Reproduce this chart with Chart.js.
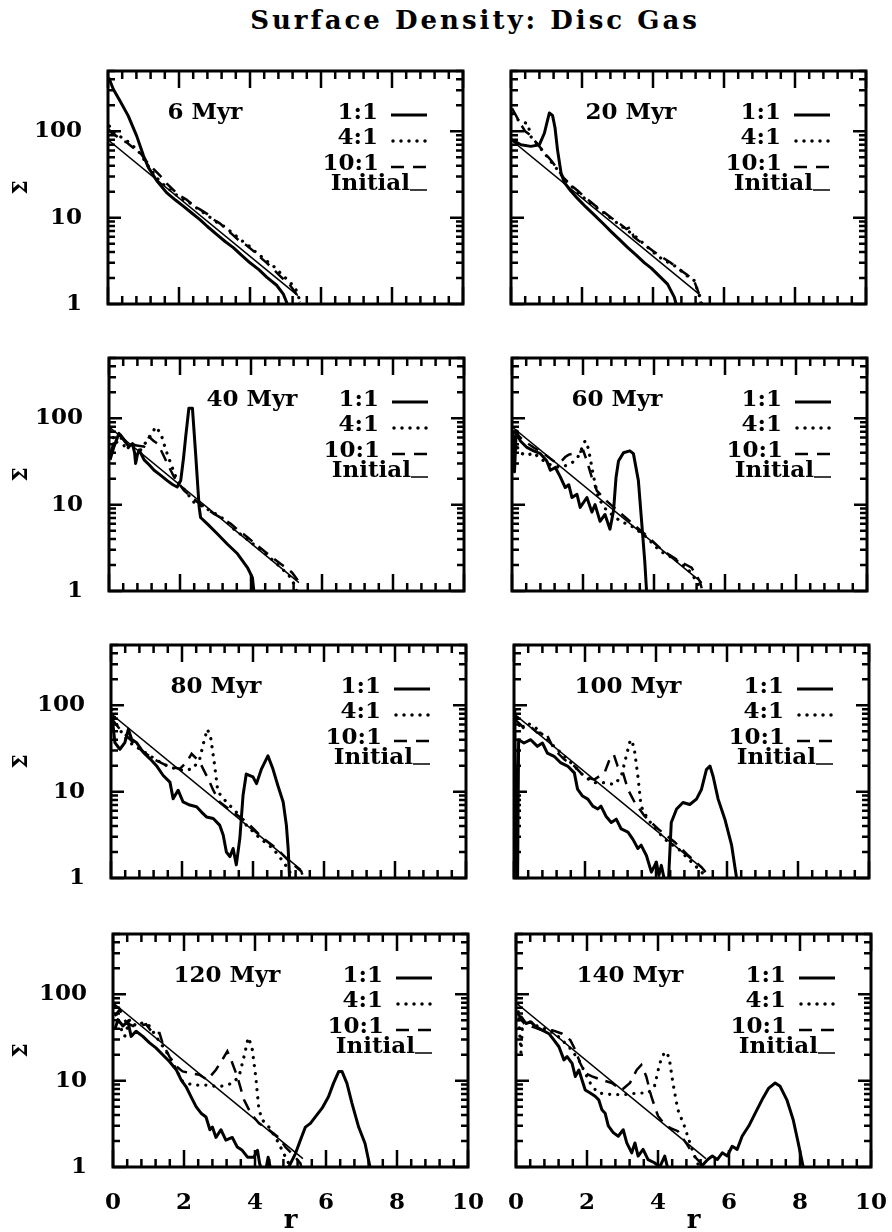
<!DOCTYPE html>
<html>
<head>
<meta charset="utf-8">
<script src="https://cdn.jsdelivr.net/npm/chart.js@4.4.1/dist/chart.umd.min.js"></script>
<style>
  html, body { margin: 0; padding: 0; background: #fff; }
  #page { position: relative; width: 892px; height: 1232px; overflow: hidden; }
  #title { position: absolute; left: 0; width: 950px; top: 5px; text-align: center;
           font: bold 26px "DejaVu Serif"; letter-spacing: 3px; color: #000; white-space: nowrap; }
  canvas { position: absolute; }
</style>
</head>
<body>
<div id="page"><div id="title">Surface Density: Disc Gas</div></div>
<script>
// ---- data: [r, Sigma] ----
const initial = [[0, 80], [5.35, 1.25]];

const s6_1to1 = [[0.02,420],[0.15,307],[0.34,224],[0.57,151],[0.81,88],[1.0,52],[1.14,38],[1.37,27],[1.65,19.5],[1.9,16],[2.12,13.6],[2.35,11.4],[2.59,9.5],[2.8,7.9],[3.06,6.4],[3.3,5.3],[3.53,4.5],[3.75,3.7],[4.0,3.0],[4.25,2.5],[4.47,2.05],[4.75,1.65],[4.94,1.3],[5.05,1.0],[5.1,0.8]];
const s6_4to1 = [[0.04,115],[0.12,100],[0.24,93],[0.4,84],[0.53,78],[0.7,68],[0.81,62],[0.95,52],[1.09,42],[1.23,35],[1.37,29],[1.6,23.5],[1.84,19.5],[2.05,16.8],[2.31,14.8],[2.55,12.5],[2.78,10.8],[3.0,9.2],[3.25,8.0],[3.5,6.7],[3.72,5.6],[3.95,4.8],[4.19,3.9],[4.45,3.2],[4.66,2.75],[4.85,2.3],[5.03,1.95],[5.27,1.55],[5.36,1.25],[5.42,1.0]];
const s6_10to1 = [[0.02,106],[0.1,96],[0.24,88],[0.38,80],[0.53,74],[0.7,65],[0.9,57],[1.05,47],[1.18,40],[1.3,36],[1.46,31],[1.65,25],[1.84,21],[2.0,18.2],[2.2,16.3],[2.4,14],[2.6,12.4],[2.8,11],[2.97,9.5],[3.15,8.6],[3.34,7.3],[3.5,6.4],[3.72,5.3],[3.9,4.8],[4.1,4.1],[4.3,3.45],[4.47,3.0],[4.65,2.55],[4.85,2.1],[5.0,1.85],[5.13,1.65],[5.31,1.3],[5.4,1.05]];

const s20_1to1 = [[0.0,80],[0.12,76],[0.28,70],[0.56,67],[0.8,70],[0.94,95],[1.02,130],[1.08,163],[1.17,153],[1.24,110],[1.31,61],[1.41,33],[1.5,25.7],[1.68,20.5],[1.88,16.6],[2.1,13.4],[2.35,10.7],[2.6,8.5],[2.82,6.9],[3.05,5.6],[3.29,4.5],[3.52,3.7],[3.76,3.0],[3.95,2.6],[4.13,2.2],[4.41,1.7],[4.6,1.2],[4.65,1.0],[4.68,0.8]];
const s20_4to1 = [[0.05,160],[0.15,140],[0.28,130],[0.47,123],[0.56,87],[0.75,70],[0.94,56],[1.08,47],[1.22,40],[1.4,32],[1.6,25.5],[1.88,19.8],[2.1,16.3],[2.35,13.6],[2.6,11.5],[2.82,9.8],[3.05,8.3],[3.3,7.0],[3.52,6.0],[3.76,4.9],[4.0,4.0],[4.22,3.4],[4.45,3.0],[4.69,2.66],[4.9,2.2],[5.16,1.87],[5.35,1.1],[5.4,0.9]];
const s20_10to1 = [[0.03,185],[0.15,150],[0.28,120],[0.4,100],[0.55,90],[0.7,75],[0.85,63],[1.0,53],[1.15,45],[1.3,37],[1.48,29],[1.7,23.5],[1.88,20.5],[2.1,17],[2.35,14],[2.6,11.8],[2.82,10.0],[3.05,8.6],[3.25,7.4],[3.38,7.8],[3.45,6.0],[3.6,5.4],[3.76,4.9],[4.0,4.1],[4.25,3.5],[4.5,3.0],[4.69,2.6],[4.95,2.2],[5.16,1.85],[5.3,1.3],[5.35,1.0]];

const s40_1to1 = [[0.03,33],[0.14,47],[0.28,67],[0.42,56],[0.56,47],[0.66,51],[0.72,40],[0.75,30],[0.8,38],[0.85,43],[0.99,33],[1.13,29],[1.27,25],[1.45,22],[1.64,19],[1.8,17],[1.92,16],[2.02,19],[2.1,35],[2.16,61],[2.25,131],[2.35,131],[2.44,39],[2.54,9.3],[2.58,7.1],[2.77,6.0],[3.05,4.6],[3.33,3.5],[3.62,2.7],[3.9,1.87],[4.04,1.43],[4.08,1.0],[4.1,0.8]];
const s40_4to1 = [[0.03,73],[0.19,51],[0.33,61],[0.47,43],[0.66,51],[0.89,43],[1.0,50],[1.08,56],[1.22,67],[1.31,80],[1.46,67],[1.6,43],[1.74,30],[1.92,19],[2.21,13.4],[2.39,10.7],[2.58,9.8],[2.77,8.9],[2.96,8.0],[3.15,7.2],[3.33,6.3],[3.52,5.2],[3.75,4.4],[3.99,3.7],[4.22,3.1],[4.46,2.6],[4.65,2.2],[4.84,1.87],[5.12,1.43],[5.26,1.1],[5.3,0.9]];
const s40_10to1 = [[0.03,39],[0.19,61],[0.33,64],[0.52,51],[0.7,49],[0.99,47],[1.13,61],[1.25,55],[1.36,51],[1.5,40],[1.64,30],[1.83,21],[1.97,17.5],[2.11,14.6],[2.3,12.5],[2.49,10.7],[2.72,9.2],[2.96,7.8],[3.2,6.9],[3.43,6.0],[3.66,5.0],[3.9,4.2],[4.13,3.5],[4.37,2.9],[4.6,2.45],[4.84,2.05],[5.0,1.85],[5.16,1.63],[5.4,1.2]];

const s60_1to1 = [[0.02,72],[0.07,24],[0.12,72],[0.23,55],[0.42,46],[0.61,42],[0.8,39],[0.98,32],[1.08,25],[1.22,27],[1.36,21],[1.5,15.8],[1.6,17],[1.69,12.1],[1.83,13.2],[1.92,9.3],[2.11,12.1],[2.25,8.2],[2.34,10],[2.48,6.4],[2.62,7.7],[2.76,5.2],[2.86,8.5],[2.93,20.6],[3.0,32],[3.14,40],[3.32,42],[3.42,39],[3.56,19],[3.65,6.5],[3.74,2.2],[3.79,1.0],[3.82,0.8]];
const s60_4to1 = [[0.03,69],[0.13,48],[0.23,40],[0.42,37],[0.61,40],[0.8,34],[1.08,29],[1.36,27],[1.64,29.5],[1.83,34],[1.97,45],[2.06,55],[2.15,45],[2.29,22],[2.43,12],[2.67,8.5],[3.04,6.5],[3.42,5.5],[3.79,4.2],[4.17,2.9],[4.54,2.4],[4.92,1.86],[5.1,1.5],[5.24,1.2],[5.3,1.0]];
const s60_10to1 = [[0.03,72],[0.33,55],[0.61,46],[0.89,39],[1.17,32],[1.36,31],[1.5,35.6],[1.6,38],[1.83,40],[2.01,42],[2.11,32],[2.25,20.6],[2.39,14.5],[2.67,11],[3.04,8.1],[3.42,5.9],[3.79,4.4],[4.26,2.9],[4.73,2.2],[5.06,1.86],[5.29,1.3],[5.35,1.05]];

const s80_1to1 = [[0.03,75],[0.11,37],[0.25,31],[0.39,37],[0.49,53],[0.58,40.5],[0.72,37],[0.91,28.5],[1.1,24],[1.28,20],[1.47,15.4],[1.66,12.9],[1.75,8.3],[1.89,10.4],[2.03,7.6],[2.22,7.0],[2.41,6.7],[2.55,5.8],[2.69,5.1],[2.88,4.9],[3.06,4.1],[3.16,3.15],[3.25,2.0],[3.35,1.77],[3.44,2.2],[3.53,1.42],[3.63,2.9],[3.72,9.1],[3.81,16],[4.0,14.8],[4.1,12.4],[4.24,18.4],[4.42,26],[4.56,18.4],[4.7,11.8],[4.85,7.6],[4.94,4.1],[4.99,2.2],[5.03,1.0],[5.05,0.8]];
const s80_4to1 = [[0.03,90],[0.16,60],[0.35,45],[0.53,37],[0.82,31],[1.1,26],[1.38,22],[1.66,19.2],[2.03,17.6],[2.31,18.4],[2.5,24],[2.61,37],[2.71,53],[2.8,44.5],[2.92,20],[3.01,10],[3.25,7.6],[3.53,5.8],[3.81,4.1],[4.19,2.9],[4.56,2.2],[4.85,1.55],[5.03,1.2],[5.1,1.0]];
const s80_10to1 = [[0.03,69],[0.25,53],[0.53,40.7],[0.82,31],[1.19,24],[1.57,20],[1.94,18.4],[2.13,22],[2.27,27.4],[2.41,24],[2.55,20],[2.74,14],[2.88,10.4],[3.06,7.6],[3.44,5.8],[3.81,4.5],[4.28,2.9],[4.66,2.2],[5.03,1.55],[5.36,1.2],[5.42,1.0]];

const s100_1to1 = [[0.02,89],[0.075,1.0],[0.1,0.8],[0.13,40],[0.28,36.6],[0.47,40],[0.66,33.5],[0.8,36.6],[0.94,28],[1.13,25.7],[1.32,21.5],[1.51,19.8],[1.7,16.5],[1.79,10.7],[1.93,8.9],[2.08,8.2],[2.22,6.8],[2.36,6.3],[2.45,6.8],[2.59,5.2],[2.74,4.4],[2.88,4.8],[3.02,3.7],[3.21,3.4],[3.35,2.8],[3.49,2.2],[3.58,2.4],[3.73,1.82],[3.87,1.17],[4.01,1.53],[4.08,1.07],[4.15,1.4],[4.25,0.9],[4.35,0.9],[4.43,4.4],[4.58,6.3],[4.76,7.5],[4.95,7.1],[5.14,8.2],[5.28,10.6],[5.42,18],[5.52,19.8],[5.61,15],[5.75,8.2],[5.94,4.8],[6.13,2.4],[6.23,1.28],[6.27,1.0],[6.3,0.8]];
const s100_4to1 = [[0.03,89],[0.19,52],[0.38,62],[0.57,57],[0.85,43.7],[1.13,33.4],[1.42,25.7],[1.7,19.8],[1.98,15],[2.26,12.7],[2.55,12.7],[2.83,12.1],[3.02,15],[3.16,25.7],[3.28,40],[3.38,33.4],[3.49,15],[3.58,6.8],[3.77,4.8],[4.06,3.4],[4.34,2.6],[4.62,2.2],[4.91,1.67],[5.19,1.28],[5.38,1.07],[5.42,0.9]];
const s100_10to1 = [[0.03,68],[0.24,57],[0.42,59],[0.66,48],[0.9,48],[1.13,30.8],[1.42,23.5],[1.7,19.8],[1.98,15],[2.26,13.8],[2.55,16.5],[2.69,23.5],[2.81,27],[2.92,19.8],[3.07,16.5],[3.21,10.6],[3.4,7.5],[3.68,5.2],[4.06,3.7],[4.53,2.6],[4.91,1.82],[5.28,1.34],[5.47,1.07],[5.5,0.9]];

const s120_1to1 = [[0.05,39],[0.14,51],[0.28,43],[0.42,49],[0.51,32.6],[0.65,37.4],[0.84,32.6],[1.03,27.4],[1.21,24],[1.4,20],[1.59,16.7],[1.78,13.4],[1.92,10.2],[2.06,8.5],[2.2,6.5],[2.34,5.0],[2.48,4.2],[2.62,3.8],[2.73,2.7],[2.8,2.9],[2.9,2.2],[3.04,2.7],[3.18,2.05],[3.36,2.2],[3.5,1.7],[3.64,1.56],[3.79,1.3],[3.97,1.3],[4.07,1.56],[4.13,1.1],[4.2,0.9],[4.3,0.9],[4.37,1.3],[4.45,0.9],[4.9,0.9],[4.95,1.0],[5.14,1.43],[5.28,2.05],[5.42,2.9],[5.56,3.2],[5.7,3.8],[5.89,4.8],[6.07,6.5],[6.21,9.3],[6.36,12.8],[6.45,12.8],[6.59,9.3],[6.73,5.5],[6.92,2.9],[7.1,1.87],[7.24,1.0],[7.27,0.8]];
const s120_4to1 = [[0.05,73],[0.19,43],[0.33,32.6],[0.47,51],[0.65,43],[0.84,47],[1.03,43],[1.21,32.6],[1.4,25],[1.59,19],[1.78,13.4],[1.96,9.8],[2.24,8.9],[2.62,8.9],[2.99,8.5],[3.36,9.3],[3.55,11.2],[3.69,19],[3.81,31.5],[3.91,25],[4.02,11.2],[4.11,4.6],[4.21,3.5],[4.39,2.9],[4.58,2.2],[4.72,1.7],[4.86,1.3],[4.95,1.1],[5.0,0.9]];
const s120_10to1 = [[0.05,56],[0.19,67],[0.37,47],[0.56,43],[0.75,43],[0.93,45],[1.12,35.6],[1.31,35.6],[1.4,27],[1.59,19],[1.78,14.7],[1.96,12.8],[2.2,12.2],[2.43,11.7],[2.66,10.2],[2.9,13.4],[3.08,17.5],[3.22,21.9],[3.36,16],[3.5,11.2],[3.69,6.0],[3.88,4.2],[4.11,3.2],[4.39,2.7],[4.67,2.2],[4.86,1.7],[5.09,1.37],[5.28,1.1],[5.33,0.9]];

const s140_1to1 = [[0.05,50],[0.14,55],[0.28,46],[0.42,48],[0.56,42],[0.74,38.5],[0.93,35],[1.07,29.5],[1.21,24.7],[1.35,17.4],[1.44,19],[1.58,15.9],[1.67,11.2],[1.77,13.3],[1.86,10.2],[1.95,7.8],[2.09,7.2],[2.23,6.6],[2.33,6.0],[2.42,4.6],[2.51,4.2],[2.6,3.0],[2.74,2.5],[2.88,2.27],[3.02,2.7],[3.12,1.9],[3.26,1.46],[3.35,1.9],[3.44,1.34],[3.58,1.6],[3.72,1.22],[3.9,1.12],[4.05,1.0],[4.19,1.34],[4.28,0.95],[4.35,0.8],[5.15,0.8],[5.21,1.0],[5.4,1.22],[5.53,1.34],[5.67,1.22],[5.81,1.46],[5.95,1.34],[6.09,1.74],[6.23,1.6],[6.37,2.27],[6.56,3.0],[6.74,4.2],[6.93,6.0],[7.12,8.2],[7.3,9.4],[7.44,8.6],[7.63,6.0],[7.81,3.5],[7.95,1.9],[8.09,1.0],[8.12,0.8]];
const s140_4to1 = [[0.05,78],[0.14,21],[0.19,50],[0.37,48],[0.65,42],[0.93,38.5],[1.21,32],[1.49,24.7],[1.77,17.4],[1.95,12.2],[2.14,8.6],[2.33,7.2],[2.7,6.9],[3.07,6.9],[3.44,7.2],[3.72,7.2],[3.9,8.6],[4.05,15.9],[4.19,21.7],[4.31,19],[4.42,9.4],[4.56,4.6],[4.74,3.0],[4.93,1.74],[5.07,1.22],[5.16,1.0],[5.2,0.9]];
const s140_10to1 = [[0.05,60],[0.23,46],[0.47,42],[0.74,38.5],[1.02,38.5],[1.3,35],[1.53,29.5],[1.67,22.7],[1.81,15.9],[1.95,12.2],[2.14,11.2],[2.42,10.2],[2.7,9.4],[2.98,7.8],[3.21,9.4],[3.4,13.3],[3.53,15.2],[3.67,11.2],[3.81,6.6],[4.0,3.9],[4.19,3.1],[4.37,2.8],[4.56,2.6],[4.79,1.9],[5.02,1.34],[5.21,1.1],[5.25,0.9]];

const ages = [6, 20, 40, 60, 80, 100, 120, 140];
const ratio1to1 = [s6_1to1, s20_1to1, s40_1to1, s60_1to1, s80_1to1, s100_1to1, s120_1to1, s140_1to1];
const ratio4to1 = [s6_4to1, s20_4to1, s40_4to1, s60_4to1, s80_4to1, s100_4to1, s120_4to1, s140_4to1];
const ratio10to1 = [s6_10to1, s20_10to1, s40_10to1, s60_10to1, s80_10to1, s100_10to1, s120_10to1, s140_10to1];
const seriesNames = ['1:1', '4:1', '10:1', 'Initial'];

const xMajorTicks = [0, 2, 4, 6, 8, 10];
const xMinorTicks = [0.4, 0.8, 1.2, 1.6, 2.4, 2.8, 3.2, 3.6, 4.4, 4.8, 5.2, 5.6, 6.4, 6.8, 7.2, 7.6, 8.4, 8.8, 9.2, 9.6];
const yLabelTicks = [1, 10, 100];
const yMinorTicks = [2, 3, 4, 5, 6, 7, 8, 9, 20, 30, 40, 50, 60, 70, 80, 90, 200, 300, 400, 500];

// ---- layout ----
const FONT = '"DejaVu Serif"';
const W = 355, H = 233;
const rowTops = [71, 358, 645, 934];
const rowShift = [0, 1, 3, 5];
const colLefts = [108, 511];
const canvasLefts = [0, 490];
const canvasWidths = [490, 402];
const labelOffsets = [97, 120, 143, 105, 105, 114, 114, 114];

const toXY = pts => pts.map(p => ({ x: p[0], y: p[1] }));

// frame, inward ticks, panel label and key, drawn the IDL way
const framePlugin = {
  id: 'frame',
  afterDraw(chart, args, o) {
    const { ctx, chartArea: a } = chart;
    const x = chart.scales.x, y = chart.scales.y;
    ctx.save();
    ctx.strokeStyle = '#000';
    ctx.lineWidth = 2.5;
    ctx.beginPath();
    const vt = (v, len) => {
      const px = x.getPixelForValue(v);
      ctx.moveTo(px, a.bottom); ctx.lineTo(px, a.bottom - len);
      ctx.moveTo(px, a.top); ctx.lineTo(px, a.top + len);
    };
    const ht = (v, len) => {
      const py = y.getPixelForValue(v);
      ctx.moveTo(a.left, py); ctx.lineTo(a.left + len, py);
      ctx.moveTo(a.right, py); ctx.lineTo(a.right - len, py);
    };
    xMajorTicks.forEach(v => vt(v, 17));
    xMinorTicks.forEach(v => vt(v, 8));
    yLabelTicks.forEach(v => ht(v, 13));
    yMinorTicks.forEach(v => ht(v, 7));
    ctx.stroke();
    ctx.lineWidth = 3;
    ctx.strokeRect(a.left, a.top, a.right - a.left, a.bottom - a.top);

    ctx.fillStyle = '#000';
    ctx.font = 'bold 23px ' + FONT;
    ctx.textBaseline = 'alphabetic';
    ctx.textAlign = 'center';
    ctx.fillText(o.label, a.left + o.labelX, a.top + 48);
    ctx.textAlign = 'right';
    ctx.fillText(seriesNames[0], a.left + 270, a.top + 48);
    ctx.fillText(seriesNames[1], a.left + 270, a.top + 73);
    ctx.fillText(seriesNames[2], a.left + 271, a.top + 99);
    ctx.fillText(seriesNames[3], a.left + 302, a.top + 119);

    const key = (y0, x0, x1, width, dash, cap) => {
      ctx.beginPath();
      ctx.lineWidth = width;
      ctx.setLineDash(dash);
      ctx.lineCap = cap;
      ctx.moveTo(a.left + x0, a.top + y0);
      ctx.lineTo(a.left + x1, a.top + y0);
      ctx.stroke();
    };
    key(44, 283, 319, 3, [], 'butt');
    key(70, 285, 320, 3.5, [0, 8], 'round');
    key(96, 283, 319, 2.5, [13, 9], 'butt');
    key(119, 302, 319, 1.5, [], 'butt');
    ctx.restore();
  }
};

const page = document.getElementById('page');

ages.forEach((age, i) => {
  const row = Math.floor(i / 2), col = i % 2;
  const last = row === 3;
  const L = colLefts[col] + rowShift[row];
  const T = rowTops[row];
  const cx = canvasLefts[col], cy = T - 14;
  const cw = canvasWidths[col];
  const ch = last ? 1232 - cy : H + 28;
  const xh = last ? 1232 - (T + H) : 0;

  const canvas = document.createElement('canvas');
  canvas.width = cw;
  canvas.height = ch;
  canvas.style.left = cx + 'px';
  canvas.style.top = cy + 'px';
  page.appendChild(canvas);

  new Chart(canvas, {
    type: 'line',
    data: {
      datasets: [
        { label: seriesNames[3], data: toXY(initial), borderColor: '#000', borderWidth: 1.5 },
        { label: seriesNames[2], data: toXY(ratio10to1[i]), borderColor: '#000', borderWidth: 2.5, borderDash: [12, 8] },
        { label: seriesNames[1], data: toXY(ratio4to1[i]), borderColor: '#000', borderWidth: 3.2, borderDash: [0.1, 8], borderCapStyle: 'round' },
        { label: seriesNames[0], data: toXY(ratio1to1[i]), borderColor: '#000', borderWidth: 3, borderJoinStyle: 'round' }
      ]
    },
    options: {
      responsive: false,
      animation: false,
      devicePixelRatio: 1,
      elements: { point: { radius: 0 }, line: { tension: 0 } },
      layout: { padding: { top: 14, left: 0, right: cw - (L - cx) - W, bottom: last ? 0 : 14 } },
      plugins: {
        legend: { display: false },
        tooltip: { enabled: false },
        frame: { label: age + ' Myr', labelX: labelOffsets[i] }
      },
      scales: {
        x: {
          type: 'linear', min: 0, max: 10,
          grid: { display: false }, border: { display: false },
          ticks: { display: last, color: '#000', padding: 14, maxRotation: 0,
                   font: { family: FONT, size: 23, weight: 'bold' } },
          title: { display: last, text: 'r', color: '#000', padding: 0,
                   font: { family: FONT, size: 26, weight: 'bold', lineHeight: 0.8 } },
          afterBuildTicks: s => { s.ticks = xMajorTicks.map(v => ({ value: v })); },
          afterFit: s => { s.height = xh; s.paddingLeft = 0; s.paddingRight = 0; }
        },
        y: {
          type: 'logarithmic', min: 1, max: 500,
          grid: { display: false }, border: { display: false },
          ticks: { display: col === 0, color: '#000', padding: 18,
                   font: { family: FONT, size: 23, weight: 'bold' },
                   callback: v => String(v) },
          title: { display: col === 0, text: 'Σ', color: '#000', padding: { top: 10, bottom: 0 },
                   font: { family: FONT, size: 20, weight: 'bold' } },
          afterBuildTicks: s => { s.ticks = yLabelTicks.map(v => ({ value: v })); },
          afterFit: s => { s.width = L - cx; s.paddingTop = 0; s.paddingBottom = 0; }
        }
      }
    },
    plugins: [framePlugin]
  });
});
</script>
</body>
</html>
